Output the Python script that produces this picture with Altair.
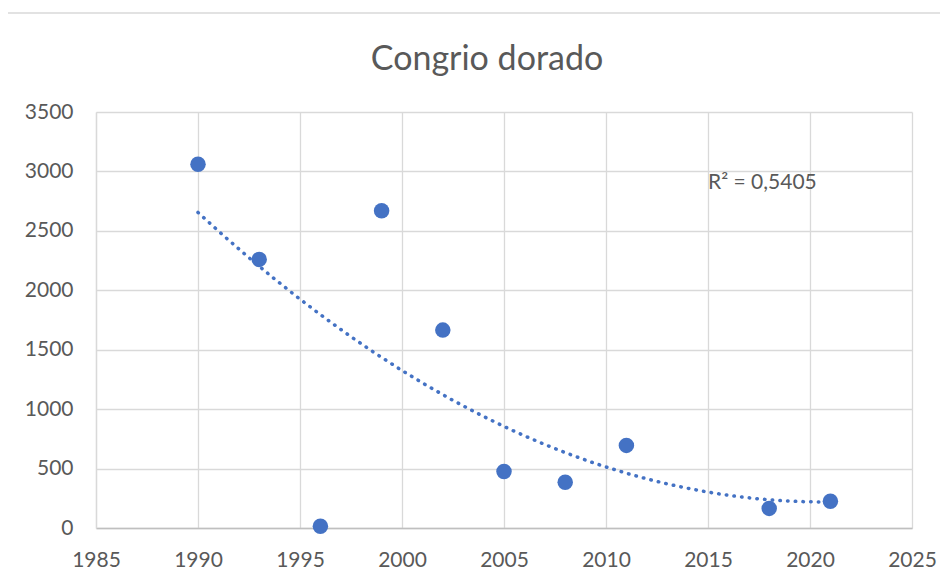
import altair as alt
import pandas as pd

years = [1990, 1993, 1996, 1999, 2002, 2005, 2008, 2011, 2018, 2021]
values = [3060, 2260, 15, 2670, 1665, 475, 385, 695, 165, 225]
title_text = "Congrio dorado"
r2_label = ["R² = 0,5405"]
x_ticks = [1985, 1990, 1995, 2000, 2005, 2010, 2015, 2020, 2025]
y_ticks = [0, 500, 1000, 1500, 2000, 2500, 3000, 3500]

df = pd.DataFrame({"year": years, "value": values})
FONT = "Lato"
BLUE = "#4472C4"
GREY = "#595959"

xs = alt.Scale(domain=[1985, 2025], nice=False, zero=False)
ys = alt.Scale(domain=[0, 3500], nice=False)

x_axis = alt.Axis(values=x_ticks, format="d", title=None, tickSize=0, labelPadding=21,
                  labelFontSize=21, labelColor=GREY, labelFont=FONT,
                  labelFlush=False, labelOverlap=False,
                  domainColor="#BFBFBF", domainWidth=1.5, gridColor="#D9D9D9", gridWidth=1.3)
y_axis = alt.Axis(values=y_ticks, format="d", title=None, tickSize=0, labelPadding=23,
                  labelFontSize=21, labelColor=GREY, labelFont=FONT,
                  labelFlush=False, labelOverlap=False,
                  domainColor="#D9D9D9", domainWidth=1.3, gridColor="#D9D9D9", gridWidth=1.3)

base = alt.Chart(df)

border = alt.Chart(pd.DataFrame({"a": [0]})).mark_rect(
    fill=None, stroke="#D9D9D9", strokeWidth=1.5
).encode(x=alt.value(-89), y=alt.value(-99), x2=alt.value(900), y2=alt.value(700))

points = base.mark_circle(size=240, color=BLUE, opacity=1).encode(
    x=alt.X("year:Q", scale=xs, axis=x_axis),
    y=alt.Y("value:Q", scale=ys, axis=y_axis),
)

trend = base.transform_regression(
    "year", "value", method="poly", order=2, extent=[1990, 2021]
).mark_line(color=BLUE, strokeWidth=3.5, strokeDash=[0.5, 7.2], strokeCap="round").encode(
    x=alt.X("year:Q", scale=xs),
    y=alt.Y("value:Q", scale=ys),
)

label = alt.Chart(pd.DataFrame({"t": r2_label})).mark_text(
    align="left", baseline="middle", fontSize=21, font=FONT, color=GREY
).encode(x=alt.datum(2015), y=alt.datum(2900), text="t:N")

chart = alt.layer(border, trend, points, label).properties(
    width=816, height=416,
    title=alt.TitleParams(title_text, fontSize=34, font=FONT, color=GREY, fontWeight="normal",
                          anchor="middle", dx=-17, offset=-65),
    autosize=alt.AutoSizeParams(type="none"),
    padding={"left": 88, "top": 104, "right": 28, "bottom": 46},
    background="white",
).configure_view(stroke=None)

chart.save("out.html", embed_options={"renderer": "svg", "actions": False})
